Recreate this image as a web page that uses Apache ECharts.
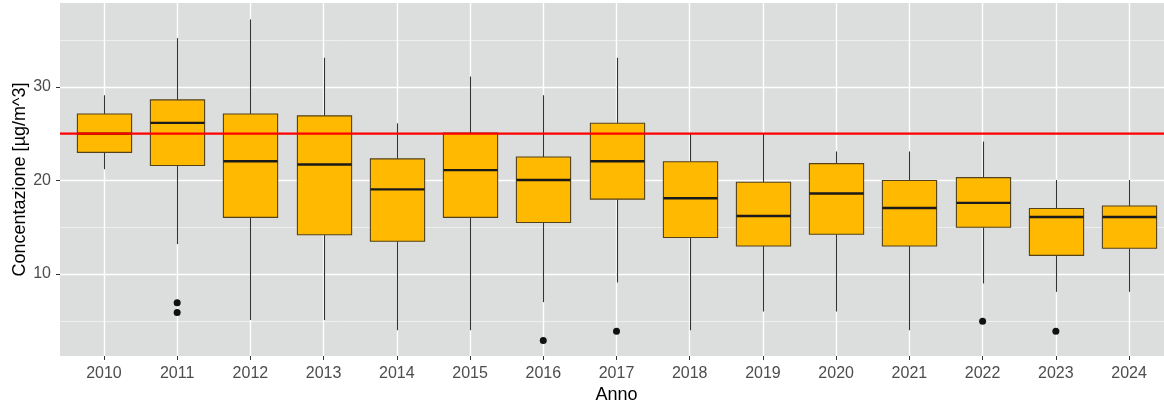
<!DOCTYPE html>
<html>
<head>
<meta charset="utf-8">
<script src="https://cdn.jsdelivr.net/npm/echarts@6/dist/echarts.min.js"></script>
<style>
html,body{margin:0;padding:0;background:#fff;}
#c{width:1164px;height:404px;}
</style>
</head>
<body>
<div id="c"></div>
<script>
const years = ['2010','2011','2012','2013','2014','2015','2016','2017','2018','2019','2020','2021','2022','2023','2024'];
const whiskerLow  = [21.2, 13.2, 5.1, 5.1, 4.0, 4.0, 7.0, 9.1, 4.0, 6.0, 6.0, 4.0, 9.0, 8.1, 8.1];
const q1          = [23.0, 21.6, 16.05, 14.2, 13.5, 16.05, 15.5, 18.0, 13.9, 13.0, 14.25, 13.0, 15.0, 12.0, 12.75];
const median      = [25.0, 26.15, 22.05, 21.7, 19.05, 21.1, 20.05, 22.05, 18.1, 16.2, 18.6, 17.05, 17.6, 16.1, 16.1];
const q3          = [27.1, 28.6, 27.1, 26.9, 22.3, 25.05, 22.5, 26.1, 22.0, 19.8, 21.8, 20.0, 20.3, 17.0, 17.27];
const whiskerHigh = [29.1, 35.2, 37.2, 33.1, 26.1, 31.1, 29.1, 33.1, 25.05, 25.05, 23.1, 23.1, 24.15, 20.05, 20.05];
const outlierYear  = ['2011','2011','2016','2017','2022','2023'];
const outlierValue = [6.93, 5.9, 2.9, 3.9, 4.97, 3.9];
const limitValue = 25;
const yMajorTicks = [10, 20, 30];
const yMinorTicks = [5, 15, 25, 35];

const xPos = years.map((y, i) => i + 1);
const boxData = years.map((y, i) => [i + 1, whiskerLow[i], q1[i], median[i], q3[i], whiskerHigh[i]]);
const outData = outlierYear.map((y, i) => [years.indexOf(y) + 1, outlierValue[i]]);

const chart = echarts.init(document.getElementById('c'));
const FONT = 'Liberation Sans, Arial, sans-serif';

chart.setOption({
  animation: false,
  grid: {left: 60, top: 3, width: 1113, height: 353, show: true, backgroundColor: '#DCDDDD', borderWidth: 0,
    containLabel: false, outerBoundsMode: 'none'},
  xAxis: {
    type: 'value', min: 0.4, max: 15.6,
    name: 'Anno', nameLocation: 'middle', nameGap: 30, nameMoveOverlap: false,
    nameTextStyle: {color: '#000', fontSize: 18, fontFamily: FONT},
    axisLine: {show: false},
    axisTick: {show: true, length: 4, lineStyle: {color: '#333', width: 1}, customValues: xPos},
    axisLabel: {color: '#4D4D4D', fontSize: 16, fontFamily: FONT, margin: 10, customValues: xPos,
      formatter: v => years[Math.round(v) - 1] || ''},
    splitLine: {show: true, lineStyle: {color: '#FFFFFF', width: 1.4}}
  },
  yAxis: [{
    type: 'value', min: 1.25, max: 38.95,
    name: 'Concentazione [µg/m^3]', nameLocation: 'middle', nameGap: 31, nameRotate: 90, nameMoveOverlap: false,
    nameTextStyle: {color: '#000', fontSize: 18, fontFamily: FONT},
    axisLine: {show: false},
    axisTick: {show: true, length: 4, lineStyle: {color: '#333', width: 1}, customValues: yMajorTicks},
    axisLabel: {color: '#4D4D4D', fontSize: 16, fontFamily: FONT, margin: 9, customValues: yMajorTicks},
    splitLine: {show: true, lineStyle: {color: '#FFFFFF', width: 1.4}},
    z: 1
  }, {
    type: 'value', min: 1.25, max: 38.95, position: 'left',
    axisLine: {show: false},
    axisTick: {show: false, customValues: yMinorTicks},
    axisLabel: {show: false, customValues: yMinorTicks},
    splitLine: {show: true, lineStyle: {color: '#F4F4F4', width: 0.8}},
    z: 0
  }],
  series: [{
    type: 'custom',
    z: 3,
    data: boxData,
    renderItem: function (params, api) {
      const x = api.value(0);
      const pLo = api.coord([x, api.value(1)]);
      const pQ1 = api.coord([x, api.value(2)]);
      const pMed = api.coord([x, api.value(3)]);
      const pQ3 = api.coord([x, api.value(4)]);
      const pHi = api.coord([x, api.value(5)]);
      const w = api.size([0.74, 0])[0];
      const cx = Math.round(pMed[0]) + 0.5;
      const left = cx - w / 2;
      return {
        type: 'group',
        children: [
          {type: 'line', shape: {x1: cx, y1: pHi[1], x2: cx, y2: pQ3[1]}, style: {stroke: '#333333', lineWidth: 1.1}},
          {type: 'line', shape: {x1: cx, y1: pQ1[1], x2: cx, y2: pLo[1]}, style: {stroke: '#333333', lineWidth: 1.1}},
          {type: 'rect', shape: {x: left, y: pQ3[1], width: w, height: pQ1[1] - pQ3[1]},
            style: {fill: '#FFB900', stroke: '#54431A', lineWidth: 1.1}},
          {type: 'line', shape: {x1: left, y1: pMed[1], x2: left + w, y2: pMed[1]},
            style: {stroke: '#1A1A1A', lineWidth: 2.4}}
        ]
      };
    }
  }, {
    type: 'scatter',
    z: 4,
    data: outData,
    symbol: 'circle',
    symbolSize: 7,
    itemStyle: {color: '#111111', opacity: 1}
  }, {
    type: 'custom',
    z: 10,
    silent: true,
    data: [[1, limitValue]],
    renderItem: function (params, api) {
      const cs = params.coordSys;
      const y = api.coord([api.value(0), api.value(1)])[1];
      return {
        type: 'line',
        shape: {x1: cs.x, y1: y, x2: cs.x + cs.width, y2: y},
        style: {stroke: '#FF0000', lineWidth: 2.2}
      };
    }
  }]
});
</script>
</body>
</html>
